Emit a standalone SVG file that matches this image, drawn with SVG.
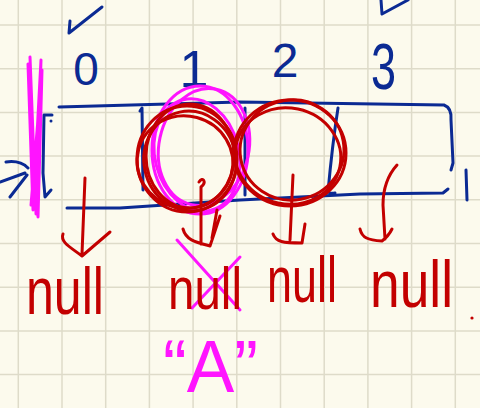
<svg xmlns="http://www.w3.org/2000/svg" width="480" height="408" viewBox="0 0 480 408">
<style>
.grid{stroke:#dedbc9;stroke-width:1.5}
.b{fill:none;stroke:#0b2a93;stroke-width:3;stroke-linecap:round;stroke-linejoin:round}
.r{fill:none;stroke:#c30000;stroke-width:3;stroke-linecap:round;stroke-linejoin:round}
.m{fill:none;stroke:#ff14ff;stroke-width:3;stroke-linecap:round;stroke-linejoin:round}
.tb{fill:#0b2a93;font-family:"Liberation Sans",Arial,sans-serif}
.tr{fill:#c30000;font-family:"Liberation Sans",Arial,sans-serif}
.tm{fill:#ff14ff;font-family:"Liberation Sans",Arial,sans-serif}
</style>
<rect width="480" height="408" fill="#fcfaed"/>
<g id="grid" class="grid">
<path d="M18.3,0V408M62,0V408M105.7,0V408M149.4,0V408M193.1,0V408M236.8,0V408M280.5,0V408M324.2,0V408M367.9,0V408M411.6,0V408M455.3,0V408"/>
<path d="M0,25H480M0,68.7H480M0,112.4H480M0,156.1H480M0,199.8H480M0,243.5H480M0,287.2H480M0,330.9H480M0,374.6H480"/>
</g>
<g id="blue-marks">
<path class="b" d="M102,7 L69,33 M70,21 L69,33"/>
<path class="b" d="M382,14 L381,0 M382,14 L408,0"/>
<path class="b" d="M59,107 L240,102 L444,105 Q452,108 451,120 L453,163 L451,170"/>
<path class="b" d="M67,208 L120,208 L240,200 L360,194 L443,193 L448,189"/>
<path class="b" d="M140,111 L142,108 L143,190"/>
<path class="b" d="M245,108 L245,195"/>
<path class="b" d="M338,108 C333,140 330,170 328,192 Q330,194 335,193"/>
<path class="b" d="M52,115 L44,115 L43,173 L45,197 L51,190"/>
<circle cx="51" cy="121" r="1.5" fill="#0b2a93"/>
<path class="b" d="M6,162 Q20,160 28,168 M0,182 L25,173 M10,197 L27,175"/>
<path class="b" d="M466,170 L467,200"/>
</g>
<g id="indices">
<text class="tb" x="86" y="85" font-size="46" text-anchor="middle">0</text>
<text class="tb" x="194" y="87" font-size="52" text-anchor="middle">1</text>
<text class="tb" x="285" y="77" font-size="48" text-anchor="middle">2</text>
<text class="tb" x="371" y="89" font-size="64" textLength="25" lengthAdjust="spacingAndGlyphs">3</text>
</g>
<g id="magenta-marks">
<path class="m" stroke-width="5" d="M30,57 L36,214 L41,60 L33,210 L28,64 L38,217 L42,70 L31,205"/>
<ellipse class="m" cx="200" cy="150" rx="48" ry="64"/>
<ellipse class="m" cx="204" cy="147" rx="45" ry="59" transform="rotate(12 204 147)"/>
<ellipse class="m" cx="197" cy="155" rx="42" ry="57" transform="rotate(-14 197 155)"/>
<path class="m" d="M177,240 L240,310 M192,308 L240,257"/>
</g>
<g id="red-circles">
<ellipse class="r" cx="187" cy="159" rx="50" ry="53"/>
<ellipse class="r" cx="190" cy="161" rx="46" ry="50" transform="rotate(-12 190 161)"/>
<ellipse class="r" cx="185" cy="162" rx="48" ry="46" transform="rotate(15 185 162)"/>
<ellipse class="r" cx="190" cy="156" rx="44" ry="52"/>
<ellipse class="r" cx="290" cy="153" rx="56" ry="53"/>
<ellipse class="r" cx="292" cy="150" rx="52" ry="50" transform="rotate(-10 292 150)"/>
<ellipse class="r" cx="288" cy="156" rx="53" ry="48" transform="rotate(12 288 156)"/>
</g>
<g id="connectors">
<path class="r" d="M85,178 L82,254 M63,234 C60,242 70,247 82,256 L110,232"/>
<path class="r" d="M199,182 C203,176 207,182 201,187 L201,244 M183,229 C186,240 195,242 210,246 L220,216 M217,210 L212,238"/>
<path class="r" d="M293,175 L290,240 M273,234 C276,242 283,243 302,243 L305,224"/>
<path class="r" d="M397,165 C388,175 383,187 383,205 L385,239 M360,229 C362,238 368,240 382,241 C386,238 390,233 392,229"/>
</g>
<g id="nulls">
<text class="tr" x="26" y="314" font-size="66" textLength="78" lengthAdjust="spacingAndGlyphs">null</text>
<text class="tr" x="168" y="309" font-size="60" textLength="74" lengthAdjust="spacingAndGlyphs">null</text>
<text class="tr" x="267" y="302" font-size="64" textLength="70" lengthAdjust="spacingAndGlyphs">null</text>
<text class="tr" x="370" y="307" font-size="66" textLength="83" lengthAdjust="spacingAndGlyphs">null</text>
<circle cx="472" cy="318" r="1.6" fill="#c30000"/>
</g>
<g id="label-A">
<text class="tm" x="163" y="392" font-size="74" textLength="95" lengthAdjust="spacingAndGlyphs">“A”</text>
</g>
</svg>
